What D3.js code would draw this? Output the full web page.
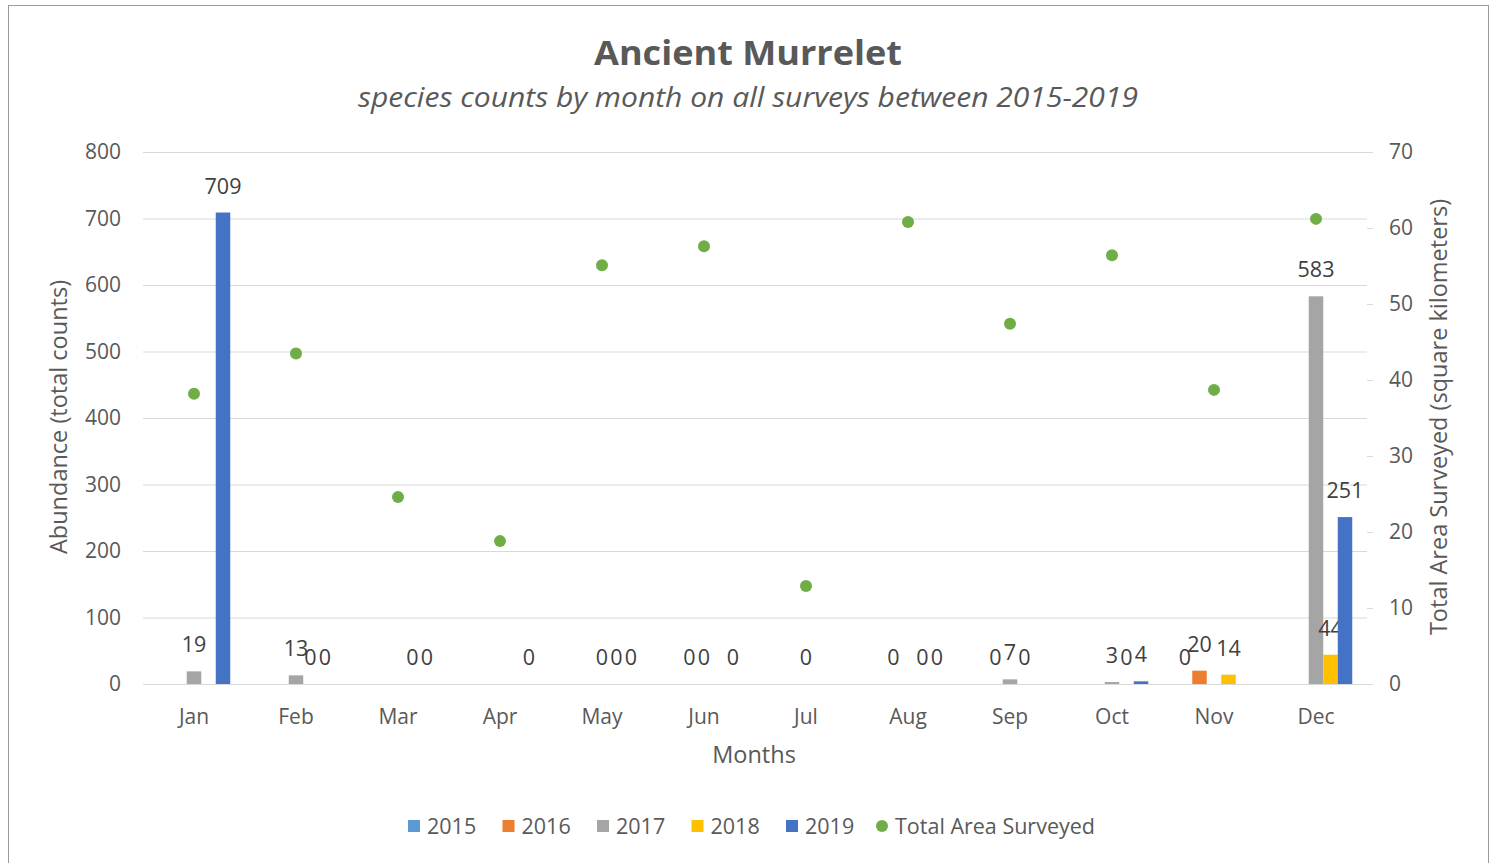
<!DOCTYPE html>
<html>
<head>
<meta charset="utf-8">
<script src="https://cdn.jsdelivr.net/npm/d3@7"></script>
<style>
  body { margin: 0; background: #fff; }
  text { font-family: "Open Sans", sans-serif; fill: #595959; }
</style>
</head>
<body>
<div id="graph"></div>
<script>
// data
const months = ["Jan","Feb","Mar","Apr","May","Jun","Jul","Aug","Sep","Oct","Nov","Dec"];
const years = ["2015","2016","2017","2018","2019"];
// null = no surveys that year/month (no label drawn)
const counts2015 = [null, null, null, null, null, null, null, null, null, null, 0, null];
const counts2016 = [null, null, null, null, null, 0, null, 0, 0, null, 20, null];
const counts2017 = [19, 13, null, null, 0, 0, 0, null, 7, 3, null, 583];
const counts2018 = [null, 0, 0, null, 0, null, null, 0, 0, 0, 14, 44];
const counts2019 = [709, 0, 0, 0, 0, 0, null, 0, null, 4, null, 251];
const areaSurveyed = [38.2, 43.5, 24.6, 18.8, 55.1, 57.6, 12.9, 60.8, 47.4, 56.4, 38.7, 61.2];
const leftTicks = [0, 100, 200, 300, 400, 500, 600, 700, 800];
const rightTicks = [0, 10, 20, 30, 40, 50, 60, 70];

const seriesValues = [counts2015, counts2016, counts2017, counts2018, counts2019];
const colors = ["#5B9BD5", "#ED7D31", "#A5A5A5", "#FFC000", "#4472C4"];
const dotColor = "#70AD47";

const W = 1490, H = 863;
const plot = {left: 143, right: 1367, top: 152, bottom: 684};
const tickFont = "21px";

const svg = d3.select("#graph")
  .append("svg")
    .attr("width", W)
    .attr("height", H);

// outer frame
svg.append("rect")
  .attr("x", 8.5).attr("y", 5.5)
  .attr("width", 1480).attr("height", 870)
  .attr("fill", "#fff")
  .attr("stroke", "#9a9a9a");

// scales
var x = d3.scaleBand().domain(months).range([plot.left, plot.right]).padding(0);
var groupW = 72.5;
var x1 = d3.scaleBand().domain(years).range([-groupW / 2, groupW / 2]);
var y = d3.scaleLinear().domain([0, 800]).range([plot.bottom, plot.top]);
var y2 = d3.scaleLinear().domain([0, 70]).range([plot.bottom, plot.top]);

// gridlines
svg.append("g")
  .selectAll("line")
  .data(leftTicks.slice(1))
  .enter().append("line")
    .attr("x1", plot.left).attr("x2", plot.right)
    .attr("y1", d => y(d) + 0.5).attr("y2", d => y(d) + 0.5)
    .attr("stroke", "#d9d9d9").attr("stroke-width", 1);

// left axis
var yAxis = svg.append("g")
  .attr("transform", "translate(" + (plot.left - 22) + ",0)")
  .call(d3.axisLeft(y).tickValues(leftTicks).tickSize(0).tickPadding(0));
yAxis.select(".domain").remove();
yAxis.selectAll("text").style("font-size", tickFont).attr("fill", "#595959")
  .style("font-family", "'Open Sans', sans-serif");

// right axis
var y2Axis = svg.append("g")
  .attr("transform", "translate(" + plot.right + ",0)")
  .call(d3.axisRight(y2).tickValues(rightTicks).tickSize(6).tickPadding(16));
y2Axis.select(".domain").remove();
y2Axis.selectAll("line").attr("stroke", "#d9d9d9");
y2Axis.selectAll("text").style("font-size", tickFont).attr("fill", "#595959")
  .style("font-family", "'Open Sans', sans-serif");

// bars
seriesValues.forEach(function(vals, si) {
  var pts = vals.map((v, i) => ({month: months[i], v: v})).filter(d => d.v !== null);
  var g = svg.append("g");
  g.selectAll("rect")
    .data(pts)
    .enter().append("rect")
      .attr("x", d => x(d.month) + x.bandwidth() / 2 + x1(years[si]))
      .attr("width", x1.bandwidth())
      .attr("y", d => y(d.v))
      .attr("height", d => y(0) - y(d.v))
      .attr("fill", colors[si]);
  g.selectAll("text")
    .data(pts)
    .enter().append("text")
      .attr("x", d => x(d.month) + x.bandwidth() / 2 + x1(years[si]) + x1.bandwidth() / 2)
      .attr("y", d => y(d.v) - 19)
      .attr("text-anchor", "middle")
      .style("font-size", "21.5px")
      .style("fill", "#404040")
      .text(d => d.v);
});

// baseline
svg.append("line")
  .attr("x1", plot.left).attr("x2", plot.right)
  .attr("y1", plot.bottom + 0.5).attr("y2", plot.bottom + 0.5)
  .attr("stroke", "#d9d9d9");

// total area dots
svg.append("g")
  .selectAll("circle")
  .data(areaSurveyed)
  .enter().append("circle")
    .attr("cx", (d, i) => x(months[i]) + x.bandwidth() / 2)
    .attr("cy", d => y2(d))
    .attr("r", 6)
    .attr("fill", dotColor);

// month labels
var xAxis = svg.append("g")
  .attr("transform", "translate(0," + plot.bottom + ")")
  .call(d3.axisBottom(x).tickSize(0).tickPadding(25));
xAxis.select(".domain").remove();
xAxis.selectAll("text").style("font-size", tickFont).attr("fill", "#595959")
  .style("font-family", "'Open Sans', sans-serif");

// titles
svg.append("text")
  .attr("x", 748).attr("y", 65)
  .attr("text-anchor", "middle")
  .attr("textLength", 308).attr("lengthAdjust", "spacingAndGlyphs")
  .style("font-size", "34px").style("font-weight", "bold")
  .text("Ancient Murrelet");

svg.append("text")
  .attr("x", 748).attr("y", 107)
  .attr("text-anchor", "middle")
  .attr("textLength", 780).attr("lengthAdjust", "spacingAndGlyphs")
  .style("font-size", "27px").style("font-style", "italic")
  .text("species counts by month on all surveys between 2015-2019");

svg.append("text")
  .attr("x", 754).attr("y", 763)
  .attr("text-anchor", "middle")
  .style("font-size", "23.5px")
  .text("Months");

svg.append("text")
  .attr("transform", "translate(67,417) rotate(-90)")
  .attr("text-anchor", "middle")
  .style("font-size", "23.5px")
  .text("Abundance (total counts)");

svg.append("text")
  .attr("transform", "translate(1447,417) rotate(-90)")
  .attr("text-anchor", "middle")
  .style("font-size", "23.5px")
  .text("Total Area Surveyed (square kilometers)");

// legend
var legendItems = years.map((yr, i) => ({label: yr, color: colors[i], x: 408 + i * 94.5, dot: false}))
  .concat([{label: "Total Area Surveyed", color: dotColor, x: 876, dot: true}]);
var leg = svg.append("g");
legendItems.forEach(function(d) {
  if (d.dot) {
    leg.append("circle").attr("cx", d.x + 6).attr("cy", 826).attr("r", 6).attr("fill", d.color);
  } else {
    leg.append("rect").attr("x", d.x).attr("y", 820).attr("width", 12).attr("height", 12).attr("fill", d.color);
  }
  leg.append("text")
    .attr("x", d.x + 19).attr("y", 834)
    .style("font-size", "21.5px")
    .text(d.label);
});
</script>
</body>
</html>
